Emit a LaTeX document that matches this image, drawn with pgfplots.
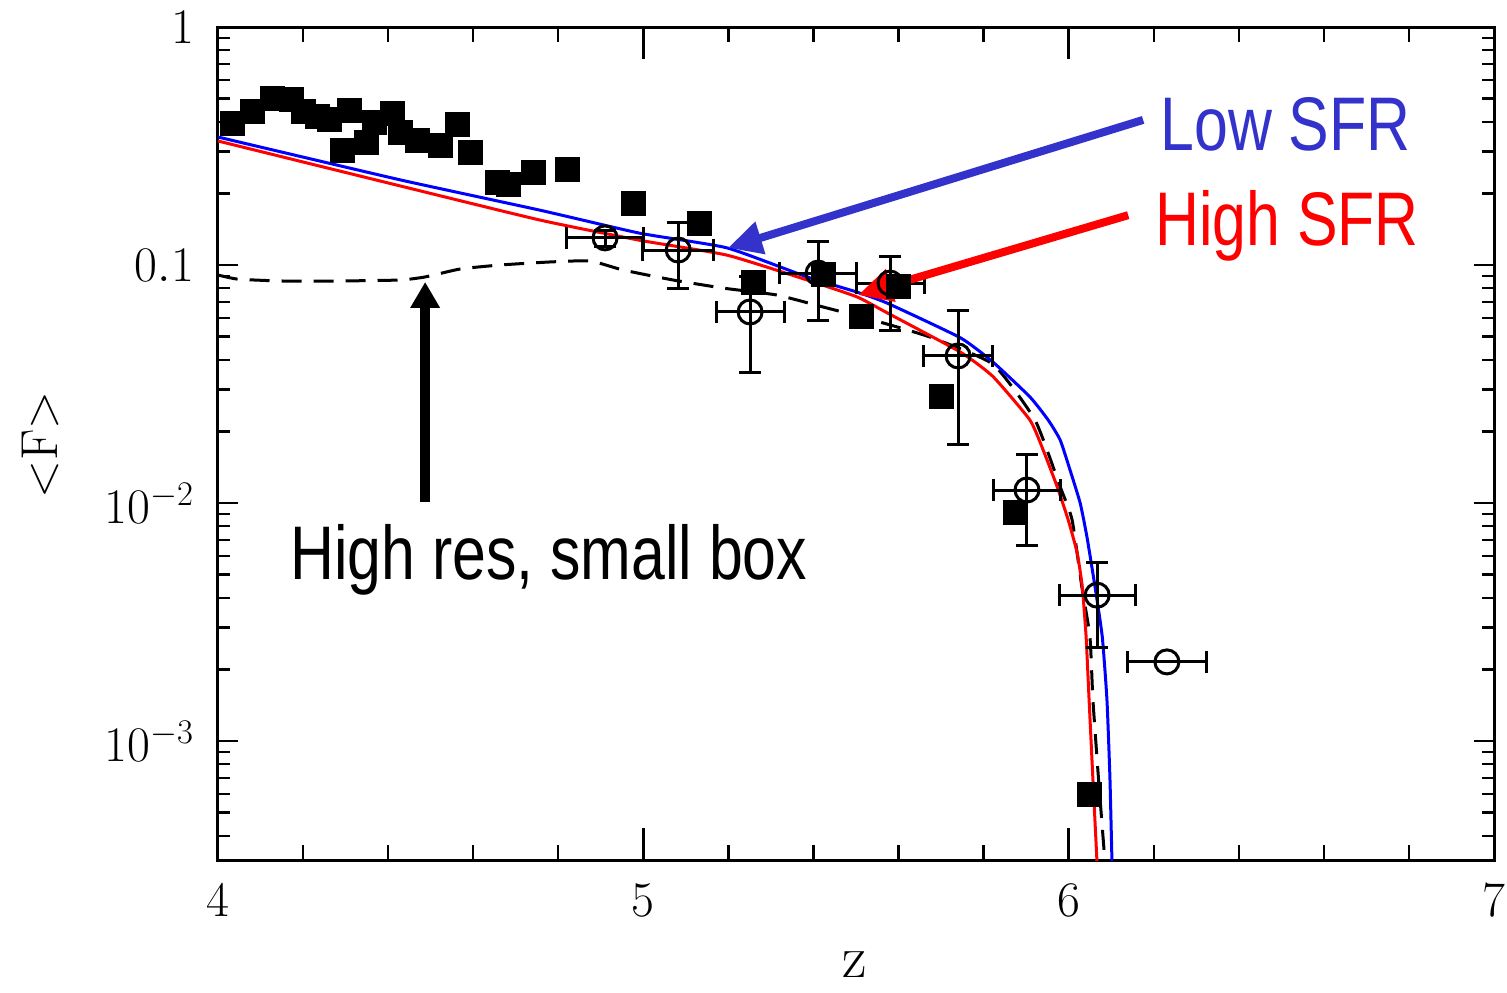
\documentclass[border=0pt]{standalone}
\usepackage{fontspec}
\usepackage{pgfplots}
\pgfplotsset{compat=1.18}
\usepackage{pgfplotstable}
\usetikzlibrary{arrows.meta}
\newfontfamily\narrowfont[FakeStretch=0.8]{Liberation Sans}
\definecolor{lowblue}{RGB}{51,51,204}

\pgfplotstableread{
x y
4.033 0.395
4.082 0.44
4.127 0.503
4.172 0.494
4.200 0.44
4.233 0.419
4.263 0.407
4.292 0.304
4.310 0.448
4.350 0.326
4.369 0.399
4.411 0.435
4.428 0.359
4.468 0.335
4.522 0.319
4.562 0.388
4.593 0.298
4.658 0.223
4.682 0.217
4.741 0.244
4.821 0.251
4.978 0.182
5.133 0.149
5.260 0.0848
5.423 0.0908
5.512 0.0605
5.599 0.0816
5.700 0.0279
5.874 0.00908
6.050 0.000598
}\squares

\pgfplotstableread{
x y ex eyp eym
4.910 0.130 0.090 0.010 0.010
5.082 0.1156 0.084 0.036 0.0356
5.251 0.0635 0.080 0.026 0.028
5.411 0.0925 0.090 0.0325 0.0338
5.580 0.0840 0.080 0.025 0.0307
5.740 0.0415 0.082 0.0232 0.0238
5.902 0.01134 0.079 0.0046 0.0047
6.067 0.0041 0.089 0.00155 0.00164
6.231 0.00215 0.092 0 0
}\circles

\pgfplotstableread{
x y
4.000 0.345
4.428 0.228
4.757 0.170
4.992 0.136
5.197 0.118
5.385 0.0891
5.502 0.077
5.573 0.0692
5.745 0.0495
5.822 0.0391
5.909 0.0279
5.952 0.0223
5.980 0.0184
6.003 0.0138
6.027 0.0100
6.043 0.0072
6.062 0.00444
6.079 0.00274
6.090 0.00149
6.097 0.00070
6.102 0.00030
}\lowsfr

\pgfplotstableread{
x y
4.000 0.332
4.428 0.215
4.757 0.1545
4.992 0.127
5.197 0.110
5.385 0.0865
5.502 0.0735
5.573 0.063
5.745 0.0431
5.822 0.0340
5.909 0.0223
5.940 0.0167
5.973 0.0117
5.999 0.00848
6.020 0.00617
6.032 0.00444
6.041 0.00274
6.048 0.00149
6.057 0.00069
6.067 0.00030
}\highsfr

\pgfplotstableread{
x y
4.000 0.0908
4.045 0.0873
4.146 0.0857
4.287 0.0857
4.428 0.0865
4.487 0.0891
4.569 0.0962
4.663 0.100
4.781 0.103
4.875 0.104
4.952 0.0953
5.070 0.0865
5.187 0.080
5.314 0.0748
5.423 0.0666
5.540 0.0587
5.674 0.0498
5.822 0.0383
5.921 0.0223
5.980 0.0117
6.008 0.0085
6.031 0.00444
6.050 0.00274
6.057 0.00149
6.070 0.00070
6.086 0.00030
}\hires

\begin{document}
\begin{tikzpicture}
\begin{axis}[
  at={(0,0)}, anchor=south west,
  scale only axis, width=638pt, height=416.5pt,
  xmin=4, xmax=7, ymode=log, ymin=3.162e-4, ymax=1,
  xtick={4,5,6,7},
  minor xtick={4.2,4.4,4.6,4.8,5.2,5.4,5.6,5.8,6.2,6.4,6.6,6.8},
  ytick={0.001,0.01,0.1,1},
  yticklabels={$10^{-3}$,$10^{-2}$,$0.1$,$1$},
  minor ytick={4e-4,5e-4,6e-4,7e-4,8e-4,9e-4,2e-3,3e-3,4e-3,5e-3,6e-3,7e-3,8e-3,9e-3,0.02,0.03,0.04,0.05,0.06,0.07,0.08,0.09,0.2,0.3,0.4,0.5,0.6,0.7,0.8,0.9},
  tick align=inside,
  axis line style={line width=1.5pt},
  tick style={line width=1.2pt, black},
  xtick style={/pgfplots/major tick length=16pt, /pgfplots/minor tick length=7.5pt},
  ytick style={/pgfplots/major tick length=10pt, /pgfplots/minor tick length=6pt},
  ticklabel style={font=\fontsize{24}{28}\selectfont},
  xticklabel style={yshift=-8.5pt},
  yticklabel style={xshift=-8.5pt},
  xlabel={z},
  xlabel style={font=\fontsize{30}{34}\selectfont, at={(axis description cs:0.499,-0.125)}, anchor=center},
  ylabel={$<$F$>$},
  ylabel style={font=\fontsize{26}{30}\selectfont, at={(axis description cs:-0.1395,0.498)}, anchor=center, rotate=0},
]
\addplot[black, line width=1.5pt, dash pattern=on 10pt off 6pt, smooth, tension=0.3] table {\hires};
\addplot[only marks, mark=square*, mark size=6pt, mark options={fill=black, draw=black, line width=0pt}] table {\squares};
\addplot[blue, line width=1.5pt, smooth, tension=0.3] table {\lowsfr};
\addplot[red, line width=1.5pt, smooth, tension=0.3] table {\highsfr};
\addplot[black, line width=1.5pt, only marks, mark=o, mark size=6pt,
  error bars/.cd, x dir=both, x explicit, y dir=both, y explicit,
  error bar style={line width=1.5pt, black},
  error mark options={rotate=90, line width=1.5pt, mark size=5.5pt, black}]
  table[x=x, y=y, x error=ex, y error plus=eyp, y error minus=eym] {\circles};

\draw[lowblue, line width=4pt, -{Triangle[length=17pt,width=16pt]}] (axis cs:6.175,0.407) -- (axis cs:5.199,0.118);
\draw[red, line width=4pt, -{Triangle[length=17pt,width=16pt]}] (axis cs:6.140,0.162) -- (axis cs:5.505,0.0748);
\draw[black, line width=5pt, -{Triangle[length=13pt,width=14pt]}] (axis cs:4.487,0.0101) -- (axis cs:4.487,0.0849);

\node[anchor=base west, inner sep=0pt, text=lowblue, font={\fontsize{38}{40}\selectfont\narrowfont}] at (axis cs:6.215,0.304) {Low SFR};
\node[anchor=base west, inner sep=0pt, text=red, font={\fontsize{38}{40}\selectfont\narrowfont}] at (axis cs:6.203,0.1213) {High SFR};
\node[anchor=base west, inner sep=0pt, text=black, font={\fontsize{38}{40}\selectfont\narrowfont}] at (axis cs:4.169,0.00475) {High res, small box};
\end{axis}
\pgfresetboundingbox
\path (-109pt,-66pt) rectangle (644.5pt,430pt);
\end{tikzpicture}
\end{document}
